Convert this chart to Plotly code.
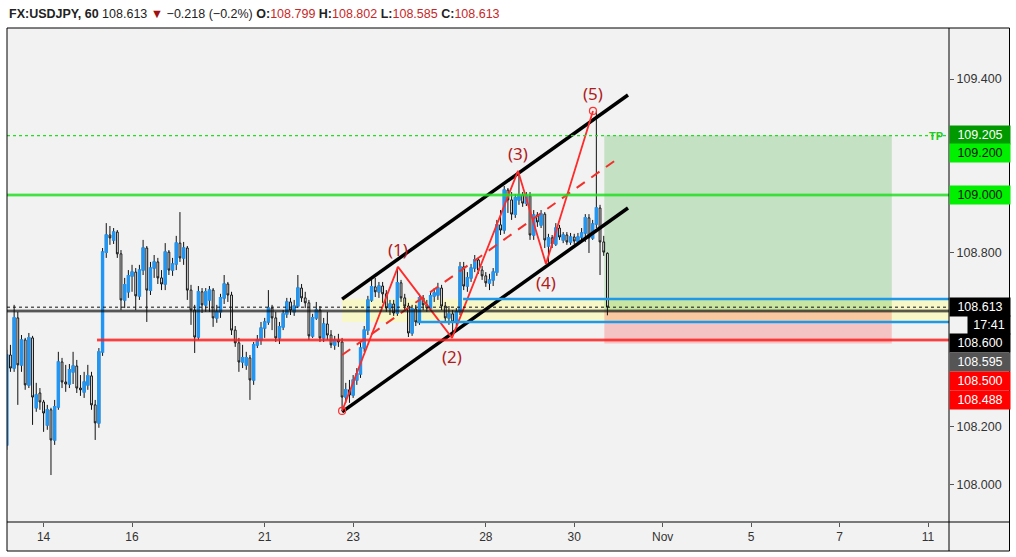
import pandas as pd
import plotly.graph_objects as go

# ---------------- data ----------------
BAR_START = "2019-10-11 04:00"
BAR_END = "2019-10-30 18:00"

OPEN = [108.138, 108.448, 108.403, 108.576, 108.414, 108.500, 108.345, 108.507, 108.266, 108.317,
        108.286, 108.207, 108.259, 108.155, 108.269, 108.424, 108.355, 108.348, 108.390, 108.410,
        108.334, 108.321, 108.345, 108.376, 108.276, 108.214, 108.459, 108.803, 108.862, 108.845,
        108.872, 108.797, 108.638, 108.666, 108.721, 108.734, 108.652, 108.741, 108.817, 108.672,
        108.748, 108.769, 108.714, 108.693, 108.803, 108.741, 108.762, 108.834, 108.783, 108.817,
        108.672, 108.603, 108.510, 108.666, 108.621, 108.638, 108.672, 108.576, 108.597, 108.645,
        108.693, 108.655, 108.534, 108.490, 108.424, 108.414, 108.438, 108.362, 108.483, 108.500,
        108.541, 108.562, 108.610, 108.576, 108.507, 108.545, 108.590, 108.631, 108.597, 108.617,
        108.679, 108.645, 108.628, 108.514, 108.576, 108.603, 108.507, 108.555, 108.517, 108.483,
        108.500, 108.493, 108.303, 108.328, 108.310, 108.362, 108.383, 108.472, 108.534, 108.638,
        108.683, 108.666, 108.686, 108.659, 108.610, 108.624, 108.593, 108.697, 108.645, 108.617,
        108.524, 108.607, 108.562, 108.645, 108.621, 108.610, 108.652, 108.655, 108.679, 108.617,
        108.576, 108.590, 108.562, 108.597, 108.752, 108.686, 108.714, 108.748, 108.776, 108.741,
        108.721, 108.697, 108.707, 108.734, 108.897, 108.879, 109.017, 108.983, 108.934, 108.983,
        109.000, 108.972, 108.997, 108.862, 108.931, 108.897, 108.934, 108.824, 108.852, 108.831,
        108.886, 108.845, 108.862, 108.838, 108.855, 108.841, 108.855, 108.869, 108.921, 108.852,
        108.900, 108.955, 108.838, 108.799]
HIGH = [108.466, 108.483, 108.621, 108.597, 108.517, 108.507, 108.524, 108.514, 108.352, 108.334,
        108.293, 108.276, 108.266, 108.293, 108.459, 108.438, 108.414, 108.417, 108.459, 108.431,
        108.379, 108.390, 108.414, 108.390, 108.293, 108.472, 108.817, 108.903, 108.893, 108.886,
        108.879, 108.810, 108.714, 108.741, 108.759, 108.748, 108.759, 108.845, 108.824, 108.769,
        108.793, 108.783, 108.741, 108.834, 108.810, 108.783, 108.859, 108.941, 108.838, 108.824,
        108.690, 108.621, 108.686, 108.679, 108.679, 108.686, 108.679, 108.621, 108.659, 108.724,
        108.700, 108.666, 108.548, 108.507, 108.483, 108.459, 108.448, 108.493, 108.517, 108.562,
        108.576, 108.672, 108.621, 108.597, 108.562, 108.603, 108.645, 108.645, 108.638, 108.724,
        108.693, 108.666, 108.638, 108.590, 108.631, 108.617, 108.576, 108.597, 108.534, 108.514,
        108.521, 108.507, 108.352, 108.362, 108.379, 108.403, 108.490, 108.548, 108.652, 108.707,
        108.714, 108.700, 108.700, 108.672, 108.638, 108.638, 108.752, 108.707, 108.659, 108.628,
        108.621, 108.621, 108.659, 108.655, 108.638, 108.666, 108.679, 108.697, 108.690, 108.631,
        108.617, 108.603, 108.610, 108.769, 108.769, 108.734, 108.762, 108.793, 108.786, 108.755,
        108.734, 108.728, 108.748, 108.914, 108.948, 109.031, 109.024, 109.010, 109.003, 109.079,
        109.010, 109.010, 109.010, 108.948, 108.941, 108.948, 108.941, 108.866, 108.862, 108.903,
        108.897, 108.872, 108.872, 108.869, 108.866, 108.869, 108.886, 108.934, 108.934, 108.914,
        109.290, 108.966, 108.859, 108.802]
LOW = [108.121, 108.390, 108.390, 108.276, 108.390, 108.328, 108.334, 108.207, 108.252, 108.259,
       108.183, 108.190, 108.034, 108.138, 108.259, 108.334, 108.321, 108.334, 108.348, 108.317,
       108.307, 108.300, 108.328, 108.259, 108.155, 108.197, 108.445, 108.783, 108.828, 108.831,
       108.783, 108.603, 108.610, 108.645, 108.666, 108.603, 108.638, 108.724, 108.562, 108.655,
       108.714, 108.693, 108.672, 108.672, 108.724, 108.721, 108.741, 108.769, 108.759, 108.638,
       108.552, 108.455, 108.500, 108.593, 108.597, 108.597, 108.545, 108.559, 108.576, 108.624,
       108.631, 108.517, 108.476, 108.390, 108.403, 108.397, 108.293, 108.345, 108.472, 108.483,
       108.507, 108.552, 108.534, 108.493, 108.486, 108.534, 108.576, 108.586, 108.583, 108.610,
       108.631, 108.610, 108.500, 108.507, 108.569, 108.493, 108.493, 108.500, 108.472, 108.466,
       108.476, 108.259, 108.283, 108.283, 108.300, 108.345, 108.369, 108.459, 108.517, 108.631,
       108.648, 108.645, 108.628, 108.597, 108.586, 108.583, 108.583, 108.631, 108.603, 108.510,
       108.514, 108.548, 108.552, 108.603, 108.597, 108.603, 108.631, 108.638, 108.603, 108.562,
       108.552, 108.517, 108.548, 108.586, 108.672, 108.666, 108.700, 108.734, 108.728, 108.707,
       108.683, 108.672, 108.686, 108.721, 108.862, 108.866, 108.938, 108.914, 108.921, 108.966,
       108.959, 108.962, 108.845, 108.845, 108.890, 108.886, 108.817, 108.766, 108.817, 108.824,
       108.845, 108.834, 108.828, 108.828, 108.831, 108.828, 108.841, 108.838, 108.800, 108.845,
       108.886, 108.724, 108.790, 108.585]
CLOSE = [108.448, 108.403, 108.576, 108.414, 108.500, 108.345, 108.507, 108.303, 108.310, 108.286,
         108.248, 108.259, 108.155, 108.269, 108.424, 108.355, 108.348, 108.397, 108.410, 108.334,
         108.328, 108.355, 108.376, 108.276, 108.214, 108.459, 108.803, 108.862, 108.852, 108.872,
         108.797, 108.638, 108.690, 108.721, 108.734, 108.652, 108.741, 108.817, 108.672, 108.748,
         108.769, 108.714, 108.693, 108.803, 108.741, 108.762, 108.834, 108.783, 108.817, 108.672,
         108.603, 108.510, 108.666, 108.621, 108.666, 108.672, 108.576, 108.597, 108.645, 108.693,
         108.655, 108.534, 108.490, 108.424, 108.438, 108.438, 108.362, 108.483, 108.500, 108.541,
         108.562, 108.610, 108.576, 108.507, 108.545, 108.590, 108.631, 108.603, 108.617, 108.679,
         108.645, 108.628, 108.514, 108.576, 108.603, 108.507, 108.555, 108.517, 108.483, 108.500,
         108.493, 108.303, 108.328, 108.310, 108.362, 108.383, 108.472, 108.534, 108.638, 108.683,
         108.666, 108.686, 108.659, 108.610, 108.624, 108.593, 108.697, 108.645, 108.617, 108.524,
         108.607, 108.562, 108.645, 108.621, 108.610, 108.652, 108.662, 108.679, 108.617, 108.576,
         108.590, 108.562, 108.597, 108.752, 108.686, 108.714, 108.748, 108.776, 108.741, 108.721,
         108.697, 108.707, 108.734, 108.897, 108.879, 109.017, 108.983, 108.934, 108.990, 109.000,
         108.972, 108.997, 108.862, 108.931, 108.907, 108.934, 108.845, 108.852, 108.831, 108.886,
         108.855, 108.862, 108.838, 108.855, 108.841, 108.855, 108.869, 108.921, 108.852, 108.900,
         108.955, 108.838, 108.803, 108.613]

# horizontal levels
TP_LEVEL = 109.205
RESIST_LEVEL = 109.000
LAST_PRICE = 108.613
ENTRY_LEVEL = 108.600
SUPPORT_LEVEL = 108.500
STOP_LEVEL = 108.488
ZONE_TOP = 108.641
ZONE_BOTTOM = 108.562
SUPPORT_START = "2019-10-15 05:00"
ZONE_START = "2019-10-22 18:00"
ZONE_TOP_START = "2019-10-25 11:40"
ZONE_BOTTOM_START = "2019-10-24 10:40"
FAR_RIGHT = "2019-11-13 00:00"

# long position (risk/reward) box
POS_START = "2019-10-30 16:20"
POS_END = "2019-11-08 04:20"

# channel
CH_TIME = ["2019-10-22 18:00", "2019-10-31 05:10"]
CH_UPPER = [108.641, 109.345]
CH_LOWER = [108.252, 108.955]
MID_TIME = ["2019-10-22 18:00", "2019-10-31 00:50"]
MID_PRICE = [108.448, 109.131]

# Elliott waves
WAVE_TIME = ["2019-10-22 18:00", "2019-10-24 00:20", "2019-10-25 05:40",
             "2019-10-28 17:30", "2019-10-29 08:40", "2019-10-30 10:10"]
WAVE_PRICE = [108.255, 108.752, 108.507, 109.083, 108.762, 109.290]
WAVE_LABELS = ["", "(1)", "(2)", "(3)", "(4)", "(5)"]

# axes
X_RANGE = ["2019-10-11 04:08", "2019-11-11 11:24"]
Y_RANGE = [107.872, 109.576]
X_TICKS = ["2019-10-14", "2019-10-16", "2019-10-21", "2019-10-23", "2019-10-28",
           "2019-10-30", "2019-11-01", "2019-11-05", "2019-11-07", "2019-11-11"]
X_TICKTEXT = ["14", "16", "21", "23", "28", "30", "Nov", "5", "7", "11"]
Y_TICKS = [108.0, 108.2, 108.4, 108.6, 108.8, 109.0, 109.2, 109.4]
Y_TICKTEXT = ["108.000", "108.200", "", "", "108.800", "", "", "109.400"]  # others hidden by labels

# price scale labels: text, price, background, text colour, vertical displacement (px)
SCALE_LABELS = [
    ("109.205", 109.205, "#009a00", "white", 1),
    ("109.200", 109.200, "#00f000", "#111111", -15.5),
    ("109.000", 109.000, "#00f000", "#111111", 0),
    ("108.613", 108.613, "#000000", "white", 0),
    ("108.600", 108.600, "#000000", "white", -32),
    ("108.595", 108.595, "#555555", "white", -50),
    ("108.500", 108.500, "#ff0000", "white", -41),
    ("108.488", 108.488, "#ff0000", "white", -56.5),
]
COUNTDOWN = "17:41"

# ---------------- figure ----------------
FONT = "Liberation Sans"
BLUE = "#2196f3"
W, H = 1016, 557
ML, MR, MT, MB = 7, 67, 28, 35
PW, PH = W - ML - MR, H - MT - MB

times = [t for t in pd.date_range(BAR_START, BAR_END, freq="2h") if t.weekday() < 5]
n = len(times)

fig = go.Figure()
fig.add_trace(go.Candlestick(
    x=times, open=OPEN, high=HIGH, low=LOW, close=CLOSE,
    increasing=dict(line=dict(color="#111111", width=1), fillcolor=BLUE),
    decreasing=dict(line=dict(color="#111111", width=1), fillcolor="#ffffff"),
    whiskerwidth=0, hoverinfo="skip", showlegend=False))

up = [i for i in range(n) if CLOSE[i] >= OPEN[i]]
fig.add_trace(go.Candlestick(
    x=[times[i] for i in up],
    open=[OPEN[i] for i in up], close=[CLOSE[i] for i in up],
    high=[max(OPEN[i], CLOSE[i]) for i in up], low=[min(OPEN[i], CLOSE[i]) for i in up],
    increasing=dict(line=dict(color=BLUE, width=1.6), fillcolor=BLUE),
    decreasing=dict(line=dict(color=BLUE, width=1.6), fillcolor=BLUE),
    whiskerwidth=0, hoverinfo="skip", showlegend=False))

# channel and waves
fig.add_trace(go.Scatter(x=CH_TIME, y=CH_UPPER, mode="lines",
                         line=dict(color="#000000", width=3.5), hoverinfo="skip", showlegend=False))
fig.add_trace(go.Scatter(x=CH_TIME, y=CH_LOWER, mode="lines",
                         line=dict(color="#000000", width=3.5), hoverinfo="skip", showlegend=False))
fig.add_trace(go.Scatter(x=MID_TIME, y=MID_PRICE, mode="lines",
                         line=dict(color="#f0302a", width=2, dash="10px,8px"),
                         hoverinfo="skip", showlegend=False))
fig.add_trace(go.Scatter(x=WAVE_TIME, y=WAVE_PRICE, mode="lines",
                         line=dict(color="#ff2a2a", width=1.8), hoverinfo="skip", showlegend=False))
fig.add_trace(go.Scatter(x=[WAVE_TIME[0], WAVE_TIME[-1]], y=[WAVE_PRICE[0], WAVE_PRICE[-1]],
                         mode="markers",
                         marker=dict(symbol="circle-open", size=7, color="#ff3030", line=dict(width=1.2)),
                         hoverinfo="skip", showlegend=False))

x_right = (1009.5 - ML) / PW
y_bottom = -(551 - (H - MB)) / PH

shapes = []
# panel background
shapes.append(dict(type="rect", xref="paper", yref="paper", x0=0, x1=x_right,
                   y0=y_bottom, y1=1, fillcolor="#f2f2f2", line=dict(width=0), layer="below"))
# zones
shapes.append(dict(type="rect", xref="x", yref="y", x0=ZONE_START, x1=FAR_RIGHT,
                   y0=ZONE_BOTTOM, y1=ZONE_TOP, fillcolor="rgba(255,255,140,0.42)",
                   line=dict(width=0), layer="below"))
shapes.append(dict(type="rect", xref="x", yref="y", x0=POS_START, x1=POS_END,
                   y0=ENTRY_LEVEL, y1=TP_LEVEL, fillcolor="rgba(0,155,0,0.19)",
                   line=dict(width=0), layer="below"))
shapes.append(dict(type="rect", xref="x", yref="y", x0=POS_START, x1=POS_END,
                   y0=STOP_LEVEL, y1=ENTRY_LEVEL, fillcolor="rgba(255,0,0,0.19)",
                   line=dict(width=0), layer="below"))


def hline(y, color, width, dash="solid", x0=None, layer="above"):
    if x0 is None:
        return dict(type="line", xref="paper", yref="y", x0=0, x1=1, y0=y, y1=y,
                    line=dict(color=color, width=width, dash=dash), layer=layer)
    return dict(type="line", xref="x", yref="y", x0=x0, x1=FAR_RIGHT, y0=y, y1=y,
                line=dict(color=color, width=width, dash=dash), layer=layer)


shapes += [
    hline(TP_LEVEL, "#22dd22", 1.2, "dot"),
    hline(RESIST_LEVEL, "rgba(40,230,40,0.35)", 4),
    hline(RESIST_LEVEL, "#22dd22", 1.6),
    hline(ZONE_TOP, "#1e98e8", 2.6, x0=ZONE_TOP_START),
    hline(ZONE_BOTTOM, "#1e98e8", 2.6, x0=ZONE_BOTTOM_START),
    hline(ENTRY_LEVEL, "rgba(0,0,0,0.35)", 3.5),
    hline(ENTRY_LEVEL, "#111111", 1.1),
    hline(LAST_PRICE, "#111111", 1, "dot"),
    hline(SUPPORT_LEVEL, "rgba(255,40,40,0.35)", 4, x0=SUPPORT_START),
    hline(SUPPORT_LEVEL, "#ff1a1a", 1.6, x0=SUPPORT_START),
]

# frame lines
for x0, x1, y0, y1 in [(0, x_right, 1, 1), (0, x_right, y_bottom, y_bottom), (0, 0, y_bottom, 1),
                       (x_right, x_right, y_bottom, 1), (1, 1, y_bottom, 1), (0, x_right, 0, 0)]:
    shapes.append(dict(type="line", xref="paper", yref="paper", x0=x0, x1=x1, y0=y0, y1=y1,
                       line=dict(color="#000000", width=1), layer="above"))

annotations = []
# title line
red = "#c62828"
title = ("<b>FX:USDJPY, 60</b> 108.613 <span style='color:#a01010'>▼</span> −0.218 (−0.2%) "
         f"<b>O:</b><span style='color:{red}'>108.799</span> "
         f"<b>H:</b><span style='color:{red}'>108.802</span> "
         f"<b>L:</b><span style='color:{red}'>108.585</span> "
         f"<b>C:</b><span style='color:{red}'>108.613</span>")
annotations.append(dict(text=title, xref="paper", yref="paper", x=0, y=1, xanchor="left",
                        yanchor="middle", yshift=14, showarrow=False,
                        font=dict(family=FONT, size=12.5, color="#222222")))

# wave labels
for i, (t, p, lab) in enumerate(zip(WAVE_TIME, WAVE_PRICE, WAVE_LABELS)):
    if not lab:
        continue
    annotations.append(dict(text=lab, x=t, y=p, xref="x", yref="y", showarrow=False,
                            yshift=17 if i % 2 == 1 else -19, yanchor="middle",
                            font=dict(family="Noto Sans", size=17, color="#b01c1c")))

# TP text
annotations.append(dict(text="<b>TP</b>", xref="paper", yref="y", x=(936 - ML) / PW, y=TP_LEVEL,
                        showarrow=False, font=dict(family=FONT, size=11, color="#22cc22"),
                        xanchor="center", yanchor="middle"))

# price-scale labels
for txt, p, bg, fg, dy in SCALE_LABELS:
    annotations.append(dict(text=txt, xref="paper", yref="y", x=1, y=p, xanchor="left",
                            yanchor="middle", yshift=dy, showarrow=False, bgcolor=bg,
                            width=58, height=16, borderpad=1, align="center",
                            font=dict(family=FONT, size=12.5, color=fg)))
annotations.append(dict(text=COUNTDOWN, xref="paper", yref="y", x=1, y=LAST_PRICE, xanchor="left",
                        xshift=18, yanchor="middle", yshift=-18, showarrow=False, bgcolor="#000000",
                        width=40, height=16, borderpad=1, align="center",
                        font=dict(family=FONT, size=12.5, color="white")))

fig.update_layout(
    width=W, height=H, margin=dict(l=ML, r=MR, t=MT, b=MB, autoexpand=False),
    paper_bgcolor="#ffffff", plot_bgcolor="#f2f2f2",
    shapes=shapes, annotations=annotations, showlegend=False,
    xaxis=dict(type="date", range=X_RANGE, rangeslider=dict(visible=False),
               rangebreaks=[dict(bounds=["sat", "mon"])],
               tickvals=X_TICKS, ticktext=X_TICKTEXT, ticks="outside", ticklen=4,
               tickcolor="#555555", showgrid=False, zeroline=False, showline=False,
               tickfont=dict(family=FONT, size=12, color="#333333")),
    yaxis=dict(side="right", range=Y_RANGE, tickvals=Y_TICKS, ticktext=Y_TICKTEXT,
               ticks="outside", ticklen=4,
               tickcolor="#555555", showgrid=False, zeroline=False, showline=False,
               tickfont=dict(family=FONT, size=12.5, color="#333333")),
    hovermode=False,
)

fig.write_html("out.html", config=dict(displayModeBar=False),
               post_script="document.body.style.margin='0';")
